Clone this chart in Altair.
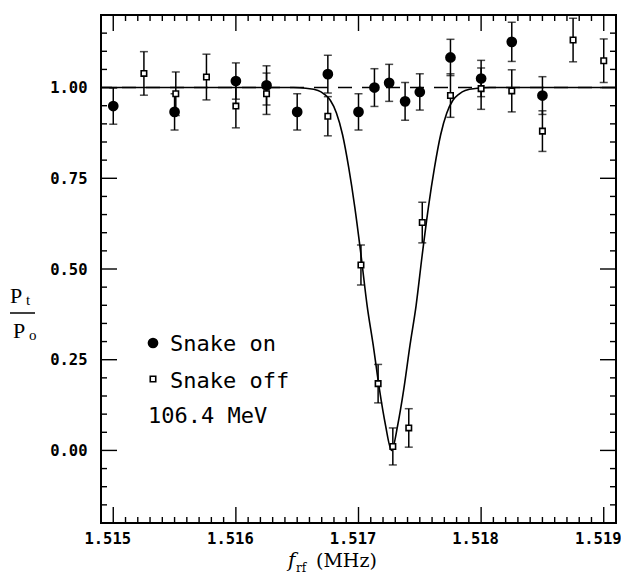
import altair as alt
import pandas as pd

# ---------------- data ----------------
on_f = [1.51500, 1.51550, 1.51600, 1.51625, 1.51650, 1.51675, 1.51700, 1.51713,
        1.51725, 1.51738, 1.51750, 1.51775, 1.51800, 1.51825, 1.51850]
on_v = [0.949, 0.933, 1.018, 1.006, 0.933, 1.037, 0.933, 1.000,
        1.013, 0.962, 0.988, 1.083, 1.025, 1.126, 0.978]
on_err = [0.050, 0.050, 0.050, 0.054, 0.050, 0.052, 0.050, 0.052,
          0.051, 0.052, 0.050, 0.050, 0.050, 0.054, 0.052]

off_f = [1.51525, 1.51551, 1.51576, 1.51600, 1.51625, 1.51675, 1.51702, 1.51716,
         1.51728, 1.51741, 1.51752, 1.51775, 1.51800, 1.51825, 1.51850, 1.51875, 1.51900]
off_v = [1.039, 0.983, 1.029, 0.949, 0.983, 0.921, 0.511, 0.184,
         0.011, 0.062, 0.628, 0.978, 0.997, 0.991, 0.880, 1.131, 1.074]
off_err = [0.060, 0.060, 0.063, 0.060, 0.057, 0.054, 0.055, 0.053,
           0.051, 0.053, 0.056, 0.060, 0.057, 0.058, 0.056, 0.060, 0.060]

# fitted resonance curve
fit_f = [1.5149, 1.51647, 1.51657, 1.51667, 1.51672, 1.51677, 1.51682, 1.51687,
         1.51692, 1.51697, 1.51702, 1.51707, 1.51712, 1.51717, 1.51722, 1.51727,
         1.51732, 1.51737, 1.51742, 1.51747, 1.51752, 1.51757, 1.51762, 1.51767,
         1.51772, 1.51777, 1.51782, 1.51787, 1.51797, 1.51807, 1.5191]
fit_v = [1.0, 1.0, 0.998, 0.992, 0.982, 0.965, 0.93, 0.87,
         0.78, 0.67, 0.54, 0.40, 0.29, 0.17, 0.07, 0.0,
         0.07, 0.17, 0.29, 0.40, 0.54, 0.67, 0.78, 0.87,
         0.93, 0.965, 0.982, 0.992, 0.998, 1.0, 1.0]

x_major = [1.515, 1.516, 1.517, 1.518, 1.519]
x_minor = [round(1.515 + k * 0.0001, 4) for k in range(41) if k % 10 != 0]
y_major = [0.0, 0.25, 0.5, 0.75, 1.0]
y_minor = [round(-0.15 + k * 0.05, 2) for k in range(27)
           if round(-0.15 + k * 0.05, 2) not in y_major]

legend_labels = ["Snake on", "Snake off"]
energy_text = "106.4 MeV"

# ---------------- tables ----------------
on_df = pd.DataFrame({"f": on_f, "v": on_v, "err": on_err})
off_df = pd.DataFrame({"f": off_f, "v": off_v, "err": off_err})
for d in (on_df, off_df):
    d["lo"] = d["v"] - d["err"]
    d["hi"] = d["v"] + d["err"]
err_df = pd.concat([on_df, off_df], ignore_index=True)
fit = pd.DataFrame({"f": fit_f, "v": fit_v})

W, H = 515, 508
MAJ, MIN = 16, 6
LABEL_FONT = "DejaVu Sans Mono"

xs = alt.Scale(domain=[1.5149, 1.5191], nice=False, zero=False)
ys = alt.Scale(domain=[-0.2, 1.2], nice=False, zero=False)
xaxis = alt.Axis(values=x_major, format=".3f", ticks=False, domain=False, grid=False,
                 labelFont=LABEL_FONT, labelFontSize=15.5, labelFontWeight="bold",
                 labelPadding=8, labelOffset=-6, labelColor="black", title=None)
yaxis = alt.Axis(values=y_major, format=".2f", ticks=False, domain=False, grid=False,
                 labelFont=LABEL_FONT, labelFontSize=15.5, labelFontWeight="bold",
                 labelPadding=14, labelColor="black", title=None)

X = lambda fld: alt.X(fld, scale=xs, axis=xaxis)
Y = lambda fld: alt.Y(fld, scale=ys, axis=yaxis)

# ---------------- layers ----------------
curve = alt.Chart(fit).mark_line(color="black", strokeWidth=1.6, interpolate="monotone").encode(
    x=X("f:Q"), y=Y("v:Q"))

dash = alt.Chart(pd.DataFrame({"y": [1.0]})).mark_rule(
    color="black", strokeWidth=1.6, strokeDash=[14, 10]).encode(y=Y("y:Q"))

bars = alt.Chart(err_df).mark_rule(color="black", strokeWidth=1.5).encode(
    x=X("f:Q"), y=Y("lo:Q"), y2="hi:Q")
cap_lo = alt.Chart(err_df).mark_tick(color="black", thickness=1.5, size=8, orient="horizontal").encode(
    x=X("f:Q"), y=Y("lo:Q"))
cap_hi = alt.Chart(err_df).mark_tick(color="black", thickness=1.5, size=8, orient="horizontal").encode(
    x=X("f:Q"), y=Y("hi:Q"))

ON_STYLE = dict(shape="circle", filled=True, color="black", size=115, opacity=1)
OFF_STYLE = dict(shape="square", fill="white", stroke="black", strokeWidth=1.6,
                 size=30, opacity=1, fillOpacity=1)

on_pts = alt.Chart(on_df).mark_point(**ON_STYLE).encode(x=X("f:Q"), y=Y("v:Q"))
off_pts = alt.Chart(off_df).mark_point(**OFF_STYLE).encode(x=X("f:Q"), y=Y("v:Q"))

# inward tick marks on all four sides
def xticks(vals, length):
    d = pd.DataFrame({"t": vals})
    bot = alt.Chart(d).mark_rule(color="black", strokeWidth=1.4).encode(
        x=X("t:Q"), y=alt.value(H), y2=alt.value(H - length))
    top = alt.Chart(d).mark_rule(color="black", strokeWidth=1.4).encode(
        x=X("t:Q"), y=alt.value(0), y2=alt.value(length))
    return [bot, top]

def yticks(vals, length):
    d = pd.DataFrame({"t": vals})
    left = alt.Chart(d).mark_rule(color="black", strokeWidth=1.4).encode(
        y=Y("t:Q"), x=alt.value(0), x2=alt.value(length))
    right = alt.Chart(d).mark_rule(color="black", strokeWidth=1.4).encode(
        y=Y("t:Q"), x=alt.value(W - length), x2=alt.value(W))
    return [left, right]

one = pd.DataFrame({"a": [0]})

def label(txt, x, y, size, font, style="normal", weight="normal"):
    return alt.Chart(one).mark_text(text=txt, font=font, fontSize=size, fontStyle=style,
                                    fontWeight=weight, align="left", baseline="alphabetic",
                                    color="black").encode(x=alt.value(x), y=alt.value(y))

# in-plot legend
leg_on = alt.Chart(one).mark_point(**ON_STYLE).encode(x=alt.value(52), y=alt.value(328))
leg_off = alt.Chart(one).mark_point(**OFF_STYLE).encode(x=alt.value(52), y=alt.value(364))
leg_on_t = label(legend_labels[0], 69, 336, 22, LABEL_FONT)
leg_off_t = label(legend_labels[1], 69, 373, 22, LABEL_FONT)
energy = label(energy_text, 47, 408, 22, LABEL_FONT)

# x-axis title f_rf (MHz)
xt_f = label("f", 187, 552, 20, "DejaVu Serif", style="italic")
xt_rf = label("rf", 195, 557, 12, "DejaVu Serif")
xt_u = label("(MHz)", 215, 552, 19, "DejaVu Serif")

# y-axis title P_t / P_o
yt_p1 = label("P", -91, 288, 22, "Liberation Serif")
yt_t = label("t", -75, 290, 15, "Liberation Serif")
yt_bar = alt.Chart(one).mark_rule(color="black", strokeWidth=1.5).encode(
    x=alt.value(-91), x2=alt.value(-66), y=alt.value(298))
yt_p2 = label("P", -88, 323, 22, "Liberation Serif")
yt_o = label("o", -72, 325, 15, "Liberation Serif")

layers = ([curve, dash] + xticks(x_major, MAJ) + xticks(x_minor, MIN)
          + yticks(y_major, MAJ) + yticks(y_minor, MIN)
          + [bars, cap_lo, cap_hi, on_pts, off_pts,
             leg_on, leg_off, leg_on_t, leg_off_t, energy,
             xt_f, xt_rf, xt_u, yt_p1, yt_t, yt_bar, yt_p2, yt_o])

chart = alt.layer(*layers).properties(
    width=W, height=H, autosize="none",
    padding={"left": 93, "top": 7, "right": 5, "bottom": 51},
    background="white",
).configure_view(stroke="black", strokeWidth=2)

chart.save("out.html", embed_options={"renderer": "svg", "actions": False})
